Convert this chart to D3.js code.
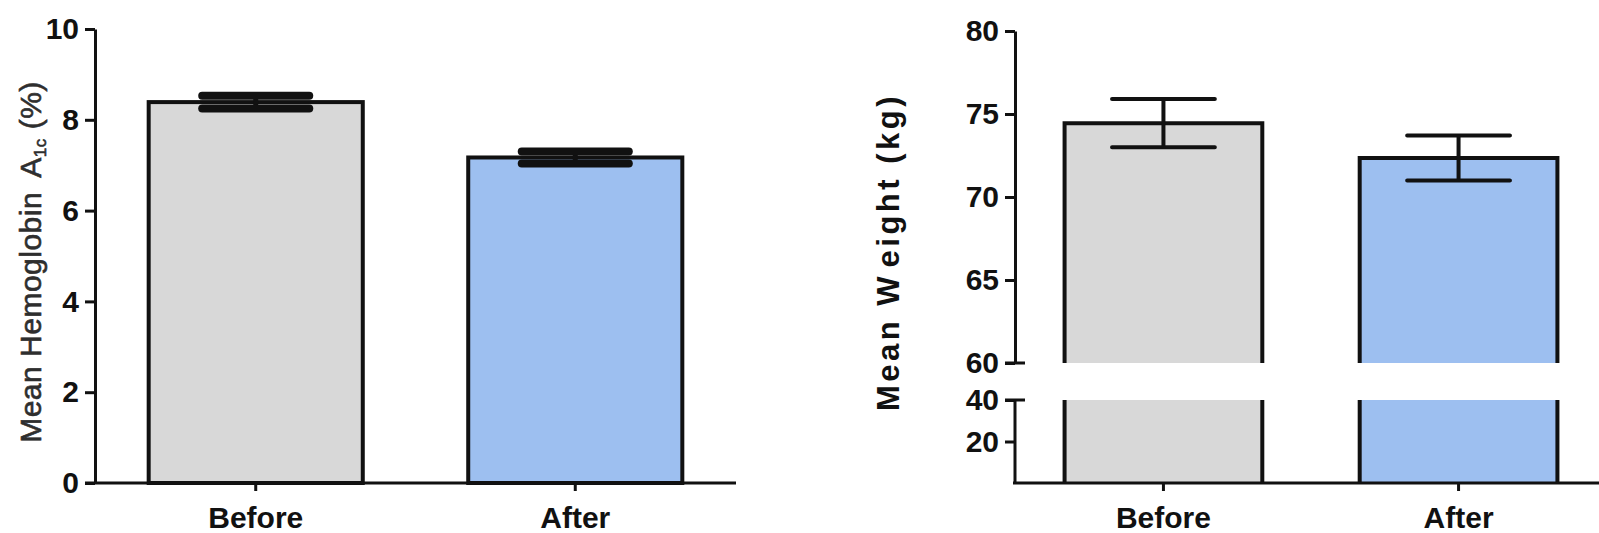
<!DOCTYPE html>
<html>
<head>
<meta charset="utf-8">
<script src="https://cdn.jsdelivr.net/npm/d3@7"></script>
<style>
  html, body { margin: 0; padding: 0; background: #ffffff; }
  svg { display: block; }
  .tick text, .lbl { font-family: "Liberation Sans", Arial, sans-serif; font-weight: bold; fill: #111; }
</style>
</head>
<body>
<svg id="chart" width="1599" height="533"></svg>
<script>
// Groups compared in both panels
const groups = ["Before", "After"];
const groupFill = ["#d8d8d8", "#9dbff0"];

// Panel A: mean hemoglobin A1c (%) with SEM
const hba1cMean = [8.39, 7.17];
const hba1cErr = [0.14, 0.13];
const hba1cTicks = [0, 2, 4, 6, 8, 10];

// Panel B: mean weight (kg) with SEM, on a broken axis
const weightMean = [74.45, 72.35];
const weightErr = [1.45, 1.35];
const weightTicksUpper = [60, 65, 70, 75, 80];
const weightTicksLower = [20, 40];

const svg = d3.select("#chart");
const INK = "#111";

function styleAxis(g, labelScale) {
  g.selectAll(".domain").attr("stroke", INK).attr("stroke-width", 3);
  g.selectAll(".tick line").attr("stroke", INK).attr("stroke-width", 3);
  g.selectAll(".tick text")
    .attr("font-size", 30)
    .attr("font-family", "Liberation Sans, Arial, sans-serif")
    .attr("font-weight", "bold")
    .attr("fill", INK);
  if (labelScale) g.selectAll(".tick text").attr("transform", `scale(${labelScale},1)`);
}

function bandScale(range) {
  return d3.scaleBand().domain(groups).range(range)
    .paddingInner(0.33).paddingOuter(0.168);
}

// ---------- Panel A ----------
const yA = d3.scaleLinear().domain([0, 10]).range([483, 29]);
const xA = bandScale([95, 736]);
const gA = svg.append("g");

gA.selectAll("rect.bar").data(groups).join("rect")
  .attr("class", "bar")
  .attr("x", d => xA(d))
  .attr("width", xA.bandwidth())
  .attr("y", (d, i) => yA(hba1cMean[i]))
  .attr("height", (d, i) => yA(0) - yA(hba1cMean[i]))
  .attr("fill", (d, i) => groupFill[i])
  .attr("stroke", INK).attr("stroke-width", 4);

// error bars
const errA = gA.selectAll("g.err").data(groups).join("g").attr("class", "err");
errA.append("line")
  .attr("x1", d => xA(d) + xA.bandwidth() / 2).attr("x2", d => xA(d) + xA.bandwidth() / 2)
  .attr("y1", (d, i) => yA(hba1cMean[i] + hba1cErr[i])).attr("y2", (d, i) => yA(hba1cMean[i] - hba1cErr[i]))
  .attr("stroke", INK).attr("stroke-width", 5);
[1, -1].forEach(s => {
  errA.append("line")
    .attr("x1", d => xA(d) + xA.bandwidth() * 0.25).attr("x2", d => xA(d) + xA.bandwidth() * 0.75)
    .attr("y1", (d, i) => yA(hba1cMean[i] + s * hba1cErr[i])).attr("y2", (d, i) => yA(hba1cMean[i] + s * hba1cErr[i]))
    .attr("stroke", INK).attr("stroke-width", 8).attr("stroke-linecap", "round");
});

gA.append("g").attr("transform", `translate(95,0)`)
  .call(d3.axisLeft(yA).tickValues(hba1cTicks).tickFormat(d3.format("d")).tickSize(10).tickSizeOuter(0).tickPadding(6))
  .call(g => styleAxis(g, null));

gA.append("g").attr("transform", `translate(0,483)`)
  .call(d3.axisBottom(xA).tickSize(8).tickSizeOuter(0).tickPadding(8))
  .call(g => styleAxis(g, null))
  .call(g => g.select(".domain").attr("d", `M85,0H${xA.range()[1]}`))
  .call(g => g.selectAll(".tick text").attr("dy", "0.95em"));

gA.append("text").attr("class", "lbl")
  .attr("transform", "translate(41,262) rotate(-90)")
  .attr("text-anchor", "middle")
  .attr("font-size", 30).attr("letter-spacing", 0.5)
  .style("font-weight", "normal").style("fill", "#2e2e2e")
  .attr("stroke", "#2e2e2e").attr("stroke-width", 0.6)
  .call(t => {
    t.append("tspan").text("Mean Hemoglobin");
    t.append("tspan").attr("dx", 14).text("A");
    t.append("tspan").attr("font-size", 17).attr("dy", 5).text("1c");
    t.append("tspan").attr("dy", -5).attr("dx", 9).text("(%)");
  });

// ---------- Panel B ----------
const yHi = d3.scaleLinear().domain([60, 80]).range([363, 31]);
const yLo = d3.scaleLinear().domain([0, 40]).range([483, 400]);
const xB = bandScale([1015, 1607]);
const gB = svg.append("g");

// bar pieces: upper segment from mean down to 60, lower segment 0..40
groups.forEach((d, i) => {
  const x0 = xB(d), x1 = xB(d) + xB.bandwidth();
  const yTop = yHi(weightMean[i]);
  gB.append("rect").attr("x", x0).attr("width", x1 - x0)
    .attr("y", yTop).attr("height", yHi(60) - yTop).attr("fill", groupFill[i]);
  gB.append("rect").attr("x", x0).attr("width", x1 - x0)
    .attr("y", yLo(40)).attr("height", yLo(0) - yLo(40)).attr("fill", groupFill[i]);
  gB.append("path")
    .attr("d", `M${x0},${yHi(60)}V${yTop}H${x1}V${yHi(60)}M${x0},${yLo(40)}V${yLo(0)}M${x1},${yLo(40)}V${yLo(0)}`)
    .attr("fill", "none").attr("stroke", INK).attr("stroke-width", 4).attr("stroke-linejoin", "miter");
  const cx = x0 + xB.bandwidth() / 2;
  const hw = xB.bandwidth() * 0.26;
  const yU = yHi(weightMean[i] + weightErr[i]), yD = yHi(weightMean[i] - weightErr[i]);
  gB.append("path")
    .attr("d", `M${cx},${yU}V${yD}M${cx - hw},${yU}H${cx + hw}M${cx - hw},${yD}H${cx + hw}`)
    .attr("fill", "none").attr("stroke", INK).attr("stroke-width", 4).attr("stroke-linecap", "round");
});

gB.append("g").attr("transform", `translate(1015,0)`)
  .call(d3.axisLeft(yHi).tickValues(weightTicksUpper).tickSize(10).tickSizeOuter(0).tickPadding(6))
  .call(g => styleAxis(g, null));
gB.append("g").attr("transform", `translate(1015,0)`)
  .call(d3.axisLeft(yLo).tickValues(weightTicksLower).tickSize(10).tickSizeOuter(0).tickPadding(6))
  .call(g => styleAxis(g, null))
  .call(g => g.select(".domain").attr("d", `M0,${yLo(40)}V${yLo(0)}`));

// break markers crossing the axis
gB.append("path")
  .attr("d", `M1005,${yHi(60)}H1025M1005,${yLo(40)}H1025`)
  .attr("stroke", INK).attr("stroke-width", 3);

gB.append("g").attr("transform", `translate(0,483)`)
  .call(d3.axisBottom(xB).tickSize(8).tickSizeOuter(0).tickPadding(8))
  .call(g => styleAxis(g, null))
  .call(g => g.select(".domain").attr("d", `M1013,0H${xB.range()[1]}`))
  .call(g => g.selectAll(".tick text").attr("dy", "0.95em"));

gB.append("text").attr("class", "lbl")
  .attr("transform", "translate(899,252) rotate(-90)")
  .attr("text-anchor", "middle")
  .attr("font-size", 31).attr("letter-spacing", 3.5)
  .call(t => {
    t.append("tspan").text("Mean W");
    t.append("tspan").attr("dx", 6).text("eight (kg)");
  });
</script>
</body>
</html>
